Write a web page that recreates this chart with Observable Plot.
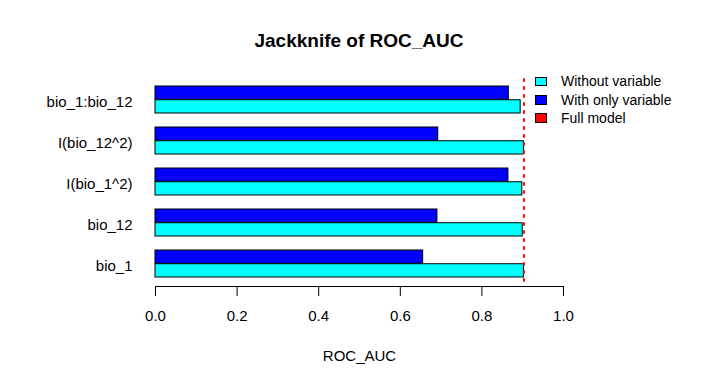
<!DOCTYPE html>
<html>
<head>
<meta charset="utf-8">
<script src="https://cdn.jsdelivr.net/npm/d3@7"></script>
<script src="https://cdn.jsdelivr.net/npm/@observablehq/plot@0.6"></script>
<style>
  body { margin: 0; background: #fff; }
  #wrap { position: relative; width: 720px; height: 384px; font-family: "Liberation Sans", Arial, sans-serif; color: #000; }
  #wrap svg { position: absolute; left: 0; top: 0; }
  #title { position: absolute; left: 0; width: 718px; top: 31px; text-align: center; font-size: 19px; line-height: 19px; font-weight: bold; }
  .lg-box { position: absolute; width: 12px; height: 9.5px; box-sizing: border-box; border: 1px solid #000; }
  .lg-text { position: absolute; font-size: 14px; line-height: 14px; white-space: nowrap; }
</style>
</head>
<body>
<div id="wrap"><div id="title"></div></div>
<script>
// ---- data (top-to-bottom order as drawn) ----
const variables = ["bio_1:bio_12", "I(bio_12^2)", "I(bio_1^2)", "bio_12", "bio_1"];
const withoutVariable = [0.895, 0.903, 0.899, 0.900, 0.903];
const withOnlyVariable = [0.866, 0.693, 0.865, 0.691, 0.656];
const fullModel = 0.903;
const xTicks = [0, 0.2, 0.4, 0.6, 0.8, 1.0];
const titleText = "Jackknife of ROC_AUC";
const xLabel = "ROC_AUC";
const legendLabels = ["Without variable", "With only variable", "Full model"];
const legendColors = ["#00FFFF", "#0000FF", "#FF0000"];

const withoutRows = variables.map((v, i) => ({variable: v, value: withoutVariable[i]}));
const withRows = variables.map((v, i) => ({variable: v, value: withOnlyVariable[i]}));

const W = 720, H = 384;
const mTop = 78.3, mBottom = 98, mLeft = 155, mRight = 157;
const padInner = 1 / 3, padOuter = 0.187;
const step = (H - mTop - mBottom) / (variables.length - padInner + 2 * padOuter);
const half = step * (1 - padInner) / 2;

const chart = Plot.plot({
  width: W, height: H,
  marginTop: mTop, marginBottom: mBottom, marginLeft: mLeft, marginRight: mRight,
  style: {fontFamily: '"Liberation Sans", Arial, sans-serif', fontSize: "15px", background: "transparent", color: "#000"},
  x: {domain: [0, 1]},
  y: {domain: variables, paddingInner: padInner, paddingOuter: padOuter},
  marks: [
    Plot.barX(withRows, {x: "value", y: "variable", fill: legendColors[1], stroke: "#000", strokeWidth: 1, insetBottom: half}),
    Plot.barX(withoutRows, {x: "value", y: "variable", fill: legendColors[0], stroke: "#000", strokeWidth: 1, insetTop: half}),
    Plot.ruleX([fullModel], {stroke: legendColors[2], strokeWidth: 2, strokeDasharray: "3.5,4.5"}),
    Plot.frame({anchor: "bottom", stroke: "#000", strokeWidth: 1}),
    Plot.axisX({ticks: xTicks, tickFormat: d3.format(".1f"), tickSize: 10, tickPadding: 14,
      label: xLabel, labelAnchor: "center", labelArrow: false, labelOffset: 74, fontSize: 15, stroke: "#000"}),
    Plot.axisY({tickSize: 0, tickPadding: 23, label: null, dy: 2.5, fontSize: 15})
  ]
});

const wrap = document.getElementById("wrap");
wrap.insertBefore(chart, wrap.firstChild);
document.getElementById("title").textContent = titleText;

legendLabels.forEach((lab, i) => {
  const box = document.createElement("div");
  box.className = "lg-box";
  box.style.left = "535px";
  box.style.top = (76.7 + i * 18.3) + "px";
  box.style.background = legendColors[i];
  wrap.appendChild(box);
  const t = document.createElement("div");
  t.className = "lg-text";
  t.style.left = "561px";
  t.style.top = (74.4 + i * 18.2) + "px";
  t.textContent = lab;
  wrap.appendChild(t);
});
</script>
</body>
</html>
